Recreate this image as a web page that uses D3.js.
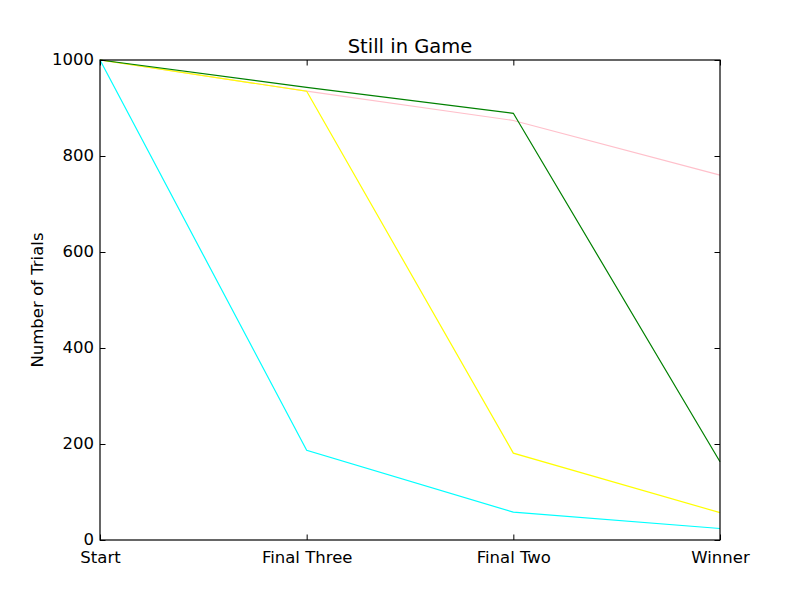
<!DOCTYPE html>
<html>
<head>
<meta charset="utf-8">
<script src="https://cdn.jsdelivr.net/npm/d3@7"></script>
<style>
  body { margin: 0; background: #fff; }
  text { font-family: "DejaVu Sans", sans-serif; }
</style>
</head>
<body>
<div id="chart"></div>
<script>
const WIDTH = 800;
const HEIGHT = 600;

// stages of the game, and how many of 1000 trials were still in at each
const stages = ["Start", "Final Three", "Final Two", "Winner"];
const pinkTrials = [1000, 935, 874, 760];
const yellowTrials = [1000, 935, 181, 57];
const cyanTrials = [1000, 187, 58, 24];
const greenTrials = [1000, 943, 889, 163];
const yTicks = [0, 200, 400, 600, 800, 1000];

// draw order: later ones sit on top
const series = [
    {color: "cyan", values: cyanTrials},
    {color: "pink", values: pinkTrials},
    {color: "yellow", values: yellowTrials},
    {color: "green", values: greenTrials}
];

const margin = {top: 60, right: 80, bottom: 60, left: 100};
const w = WIDTH - margin.left - margin.right;
const h = HEIGHT - margin.top - margin.bottom;

const svg = d3.select("#chart")
                .append("svg")
                .attr("width", WIDTH)
                .attr("height", HEIGHT);

const g = svg.append("g")
                .attr("transform", `translate(${margin.left}, ${margin.top})`);

const x = d3.scalePoint()
                .domain(stages)
                .range([0, w]);

const y = d3.scaleLinear()
                .domain([0, 1000])
                .range([h, 0]);

const line = d3.line()
                .x((d, i) => x(stages[i]))
                .y((d) => y(d));

g.selectAll("path.series")
    .data(series)
    .enter().append("path")
        .attr("class", "series")
        .attr("d", (d) => line(d.values))
        .attr("fill", "none")
        .attr("stroke", (d) => d.color)
        .attr("stroke-width", 1.2);

// ticks point inward on all four sides (matplotlib classic look)
const tickLen = 5.5;
const styleAxis = (sel) => {
    sel.select(".domain").remove();
    sel.selectAll("line").attr("stroke", "#000").attr("stroke-width", 1);
    sel.selectAll("text").attr("fill", "#000").style("font-size", "16.5px");
};

g.append("g")
    .attr("transform", `translate(0, ${h})`)
    .call(d3.axisBottom(x).tickSizeInner(-tickLen).tickPadding(8))
    .call(styleAxis)
    .selectAll("text").attr("dy", "0.9em");

g.append("g")
    .call(d3.axisTop(x).tickSizeInner(-tickLen).tickFormat(""))
    .call(styleAxis);

g.append("g")
    .call(d3.axisLeft(y).tickValues(yTicks).tickFormat(d3.format("d"))
            .tickSizeInner(-tickLen).tickPadding(6))
    .call(styleAxis)
    .selectAll("text").attr("dy", "0.3em");

g.append("g")
    .attr("transform", `translate(${w}, 0)`)
    .call(d3.axisRight(y).tickValues(yTicks).tickSizeInner(-tickLen).tickFormat(""))
    .call(styleAxis);

g.append("rect")
    .attr("width", w)
    .attr("height", h)
    .attr("fill", "none")
    .attr("stroke", "#000")
    .attr("stroke-width", 1.2);

svg.append("text")
    .attr("x", margin.left + w / 2)
    .attr("y", margin.top - 7)
    .attr("text-anchor", "middle")
    .style("font-size", "19.5px")
    .text("Still in Game");

svg.append("text")
    .attr("transform", `translate(43, ${margin.top + h / 2}) rotate(-90)`)
    .attr("text-anchor", "middle")
    .style("font-size", "16.5px")
    .text("Number of Trials");
</script>
</body>
</html>
